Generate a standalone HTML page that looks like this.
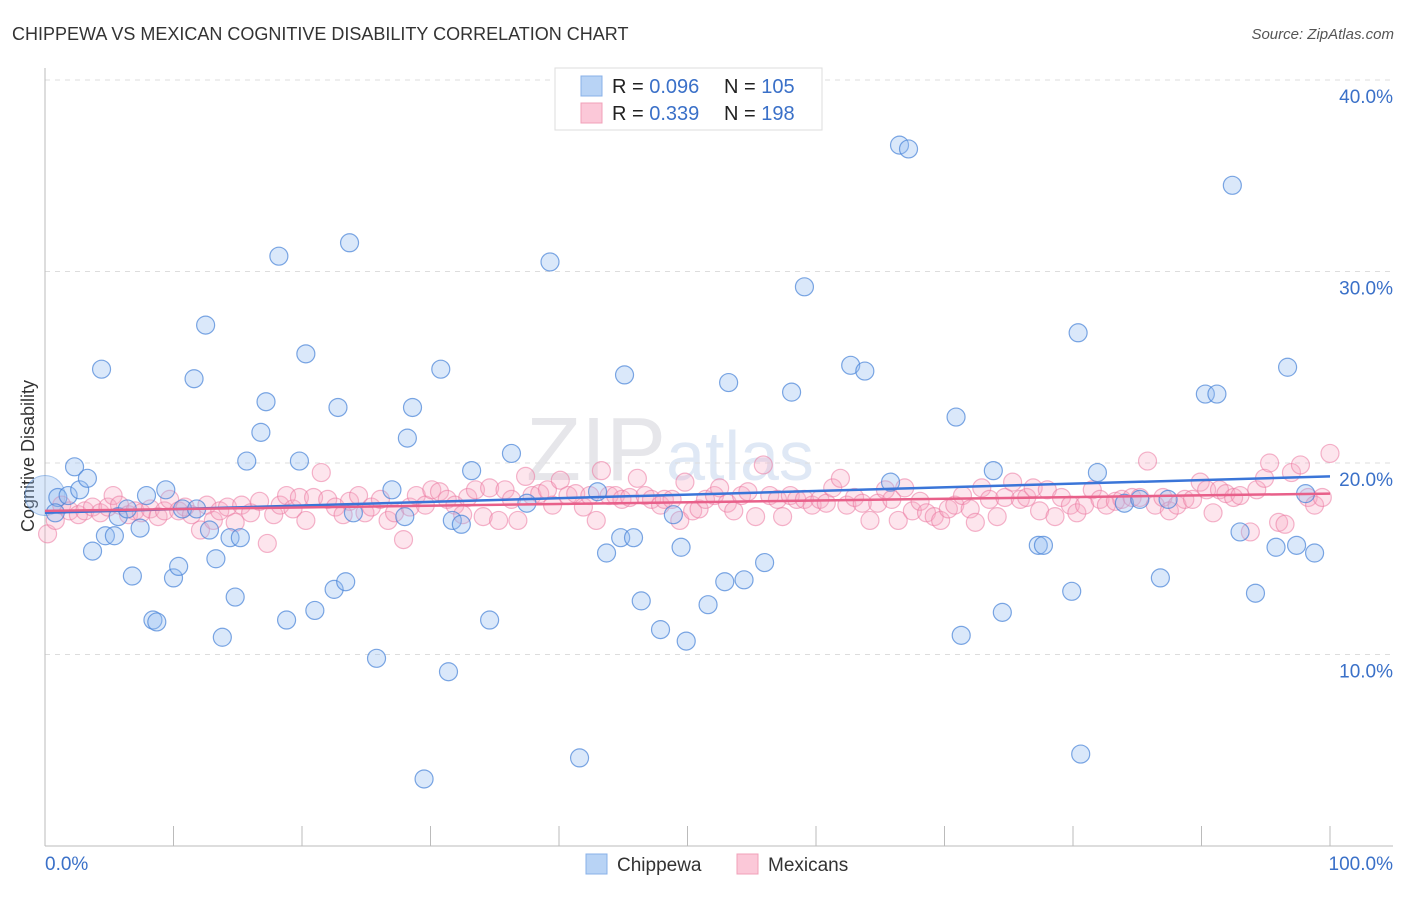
<!DOCTYPE html>
<html><head><meta charset="utf-8"><style>
body{margin:0;background:#fff;font-family:"Liberation Sans",sans-serif}
svg text{font-family:"Liberation Sans",sans-serif}
</style></head><body>
<svg width="1406" height="892" viewBox="0 0 1406 892">
<text x="12" y="40" font-size="18" fill="#333">CHIPPEWA VS MEXICAN COGNITIVE DISABILITY CORRELATION CHART</text>
<text x="1394" y="39" font-size="15" fill="#555" text-anchor="end" font-style="italic">Source: ZipAtlas.com</text>
<text x="0" y="0" transform="translate(34,456) rotate(-90)" font-size="18" fill="#333" text-anchor="middle">Cognitive Disability</text>
<text x="670" y="480" font-size="90" fill="#e6e6ea" text-anchor="middle" font-family="Liberation Serif">ZIP<tspan fill="#dfe8f5" font-family="Liberation Sans" font-size="70">atlas</tspan></text>
<g id="grid"></g><g id="axes"></g><g id="pts"></g><g id="trend"></g>
<g>
<rect x="555" y="68" width="267" height="62" fill="#fff" stroke="#ddd"/>
<rect x="581" y="76" width="21" height="20" fill="#b8d3f5" stroke="#88b0e8"/>
<rect x="581" y="103" width="21" height="20" fill="#fbc8d8" stroke="#f0a0b8"/>
<text x="612" y="93" font-size="20" fill="#222">R = <tspan fill="#3a70c8">0.096</tspan><tspan x="724">N = </tspan><tspan fill="#3a70c8">105</tspan></text>
<text x="612" y="120" font-size="20" fill="#222">R = <tspan fill="#3a70c8"> 0.339</tspan><tspan x="724">N = </tspan><tspan fill="#3a70c8">198</tspan></text>
</g>
<g>
<rect x="586" y="854" width="21" height="20" fill="#b8d3f5" stroke="#88b0e8"/>
<text x="617" y="871" font-size="19" fill="#333">Chippewa</text>
<rect x="737" y="854" width="21" height="20" fill="#fbc8d8" stroke="#f0a0b8"/>
<text x="768" y="871" font-size="19" fill="#333">Mexicans</text>
</g>
</svg>
<script>
const yTicks=[10,20,30,40];
const yTickLabels=["10.0%","20.0%","30.0%","40.0%"];
const xTicks=[10,20,30,40,50,60,70,80,90,100];
const xEndLabels=["0.0%","100.0%"];
const chippewa=[[0,18.3],[1.0,18.2],[1.8,18.3],[2.3,19.8],[2.7,18.6],[3.3,19.2],[0.8,17.4],[3.7,15.4],[4.4,24.9],[4.7,16.2],[5.4,16.2],[5.7,17.2],[6.4,17.6],[6.8,14.1],[7.4,16.6],[7.9,18.3],[8.4,11.8],[8.7,11.7],[9.4,18.6],[10.0,14.0],[10.4,14.6],[10.7,17.6],[11.8,17.6],[12.5,27.2],[11.6,24.4],[12.8,16.5],[13.3,15.0],[13.8,10.9],[14.4,16.1],[14.8,13.0],[15.2,16.1],[15.7,20.1],[16.8,21.6],[17.2,23.2],[18.2,30.8],[18.8,11.8],[19.8,20.1],[20.3,25.7],[21.0,12.3],[22.5,13.4],[22.8,22.9],[23.4,13.8],[23.7,31.5],[24.0,17.4],[25.8,9.8],[27.0,18.6],[28.0,17.2],[28.2,21.3],[28.6,22.9],[29.5,3.5],[30.8,24.9],[31.4,9.1],[31.7,17.0],[32.4,16.8],[33.2,19.6],[34.6,11.8],[36.3,20.5],[37.5,17.9],[39.3,30.5],[41.6,4.6],[43.0,18.5],[43.7,15.3],[44.8,16.1],[45.1,24.6],[45.8,16.1],[46.4,12.8],[47.9,11.3],[48.9,17.3],[49.5,15.6],[49.9,10.7],[51.6,12.6],[52.9,13.8],[53.2,24.2],[54.4,13.9],[56.0,14.8],[58.1,23.7],[59.1,29.2],[62.7,25.1],[63.8,24.8],[65.8,19.0],[66.5,36.6],[67.2,36.4],[70.9,22.4],[71.3,11.0],[73.8,19.6],[74.5,12.2],[77.3,15.7],[77.7,15.7],[79.9,13.3],[80.4,26.8],[80.6,4.8],[81.9,19.5],[84.0,17.9],[85.2,18.1],[86.8,14.0],[87.4,18.1],[90.3,23.6],[91.2,23.6],[92.4,34.5],[93.0,16.4],[94.2,13.2],[95.8,15.6],[96.7,25.0],[97.4,15.7],[98.1,18.4],[98.8,15.3]];
const mexicans=[[0.2,16.3],[0.8,17.0],[1.3,17.8],[1.9,17.5],[2.6,17.3],[3.1,17.5],[3.7,17.7],[4.3,17.4],[4.9,17.7],[5.3,18.3],[5.8,17.8],[6.5,17.3],[7.0,17.5],[7.5,17.4],[8.2,17.6],[8.8,17.2],[9.3,17.5],[9.7,18.1],[10.4,17.5],[10.9,17.7],[11.4,17.3],[12.1,16.5],[12.6,17.8],[13.1,17.0],[13.6,17.5],[14.2,17.7],[14.8,16.9],[15.3,17.8],[16.0,17.4],[16.7,18.0],[17.3,15.8],[17.8,17.3],[18.3,17.8],[18.8,18.3],[19.3,17.6],[19.8,18.2],[20.3,17.0],[20.9,18.2],[21.5,19.5],[22.0,18.1],[22.6,17.7],[23.2,17.3],[23.7,18.0],[24.4,18.3],[24.9,17.4],[25.4,17.7],[26.1,18.1],[26.7,17.0],[27.2,17.4],[27.9,16.0],[28.4,17.7],[28.9,18.3],[29.6,17.8],[30.1,18.6],[30.7,18.5],[31.3,18.1],[31.9,17.8],[32.5,17.3],[32.9,18.2],[33.5,18.6],[34.1,17.2],[34.6,18.7],[35.3,17.0],[35.8,18.6],[36.3,18.1],[36.8,17.0],[37.4,19.3],[37.9,18.3],[38.5,18.4],[39.1,18.6],[39.5,17.8],[40.1,19.1],[40.7,18.3],[41.3,18.4],[41.9,17.7],[42.4,18.3],[42.9,17.0],[43.3,19.6],[43.9,18.3],[44.4,18.3],[44.9,18.1],[45.5,18.2],[46.1,19.2],[46.7,18.3],[47.2,18.1],[47.9,17.8],[48.2,18.1],[48.8,18.1],[49.4,17.0],[49.8,19.0],[50.4,17.5],[50.9,17.6],[51.4,18.1],[52.1,18.3],[52.5,18.7],[53.1,17.9],[53.6,17.5],[54.2,18.3],[54.7,18.5],[55.3,17.2],[55.9,19.9],[56.4,18.3],[57.0,18.1],[57.4,17.2],[58.0,18.3],[58.5,18.1],[59.1,18.1],[59.7,17.8],[60.3,18.1],[60.8,17.9],[61.3,18.7],[61.9,19.2],[62.4,17.8],[63.0,18.2],[63.6,17.9],[64.2,17.0],[64.8,17.9],[65.4,18.6],[65.9,18.1],[66.4,17.0],[66.9,18.7],[67.5,17.5],[68.1,18.0],[68.6,17.4],[69.2,17.2],[69.7,17.0],[70.3,17.6],[70.8,17.8],[71.4,18.3],[72.0,17.6],[72.4,16.9],[72.9,18.7],[73.5,18.1],[74.1,17.2],[74.7,18.2],[75.3,19.0],[75.9,18.1],[76.4,18.2],[76.9,18.7],[77.4,17.5],[78.0,18.6],[78.6,17.2],[79.1,18.2],[79.8,17.8],[80.3,17.4],[80.9,17.8],[81.5,18.6],[82.1,18.1],[82.6,17.8],[83.3,18.0],[83.8,18.1],[84.6,18.2],[85.2,18.2],[85.8,20.1],[86.4,17.8],[87.0,18.2],[87.5,17.5],[88.1,17.8],[88.7,18.1],[89.3,18.1],[89.9,19.0],[90.4,18.6],[90.9,17.4],[91.4,18.6],[91.9,18.4],[92.5,18.2],[93.0,18.3],[93.8,16.4],[94.3,18.6],[94.9,19.2],[95.3,20.0],[96.0,16.9],[96.5,16.8],[97.0,19.5],[97.7,19.9],[98.3,18.2],[98.8,17.8],[99.4,18.2],[100,20.5]];
const chippewaTrend=[17.4,19.3];
const mexicanTrend=[17.5,18.4];
const NS='http://www.w3.org/2000/svg';
const X0=45,X1=1330,Y0=846,PX=19.15;
function sx(v){return X0+(X1-X0)*v/100;}
function sy(v){return Y0-v*PX;}
function mk(tag,attrs,parent){const e=document.createElementNS(NS,tag);for(const k in attrs)e.setAttribute(k,attrs[k]);document.getElementById(parent).appendChild(e);return e;}
yTicks.forEach((t,i)=>{
 const l=mk('line',{x1:X0,x2:1393,y1:sy(t),y2:sy(t),stroke:'#ddd','stroke-dasharray':'5,5'},'grid');
 
 
 const tx=mk('text',{x:1393,y:sy(t)+23,'font-size':19,fill:'#3a70c8','text-anchor':'end'},'grid');
 tx.textContent=yTickLabels[i];
 
 
});
mk('line',{x1:X0,x2:1393,y1:Y0,y2:Y0,stroke:'#bbb'},'axes');
mk('line',{x1:X0,x2:X0,y1:68,y2:Y0,stroke:'#bbb'},'axes');
xTicks.forEach(t=>{
 const l=mk('line',{x1:sx(t),x2:sx(t),y1:826,y2:Y0,stroke:'#bbb'},'axes');
 
 
});
const xl0=mk('text',{x:X0,y:870,'font-size':19,fill:'#3a70c8'},'axes');xl0.textContent=xEndLabels[0];


const xl1=mk('text',{x:1393,y:870,'font-size':19,fill:'#3a70c8','text-anchor':'end'},'axes');xl1.textContent=xEndLabels[1];


const big=mk('circle',{cx:sx(chippewa[0][0]),cy:sy(chippewa[0][1]),r:20,fill:'rgba(150,190,240,0.35)',stroke:'rgba(80,140,220,0.5)'},'pts');


mexicans.forEach(p=>{
 const c=mk('circle',{cx:sx(p[0]),cy:sy(p[1]),r:9,fill:'rgba(248,170,195,0.3)',stroke:'rgba(235,120,160,0.55)','stroke-width':1.2},'pts');
 
 
});
chippewa.slice(1).forEach(p=>{
 const c=mk('circle',{cx:sx(p[0]),cy:sy(p[1]),r:9,fill:'rgba(150,190,240,0.35)',stroke:'rgba(70,130,215,0.7)','stroke-width':1.2},'pts');
 
 
});
const tb=mk('line',{x1:sx(0),x2:sx(100),y1:sy(chippewaTrend[0]),y2:sy(chippewaTrend[1]),stroke:'#3a75d8','stroke-width':2.5},'trend');


const tp=mk('line',{x1:sx(0),x2:sx(100),y1:sy(mexicanTrend[0]),y2:sy(mexicanTrend[1]),stroke:'#e8608a','stroke-width':2.5},'trend');


</script>
</body></html>
